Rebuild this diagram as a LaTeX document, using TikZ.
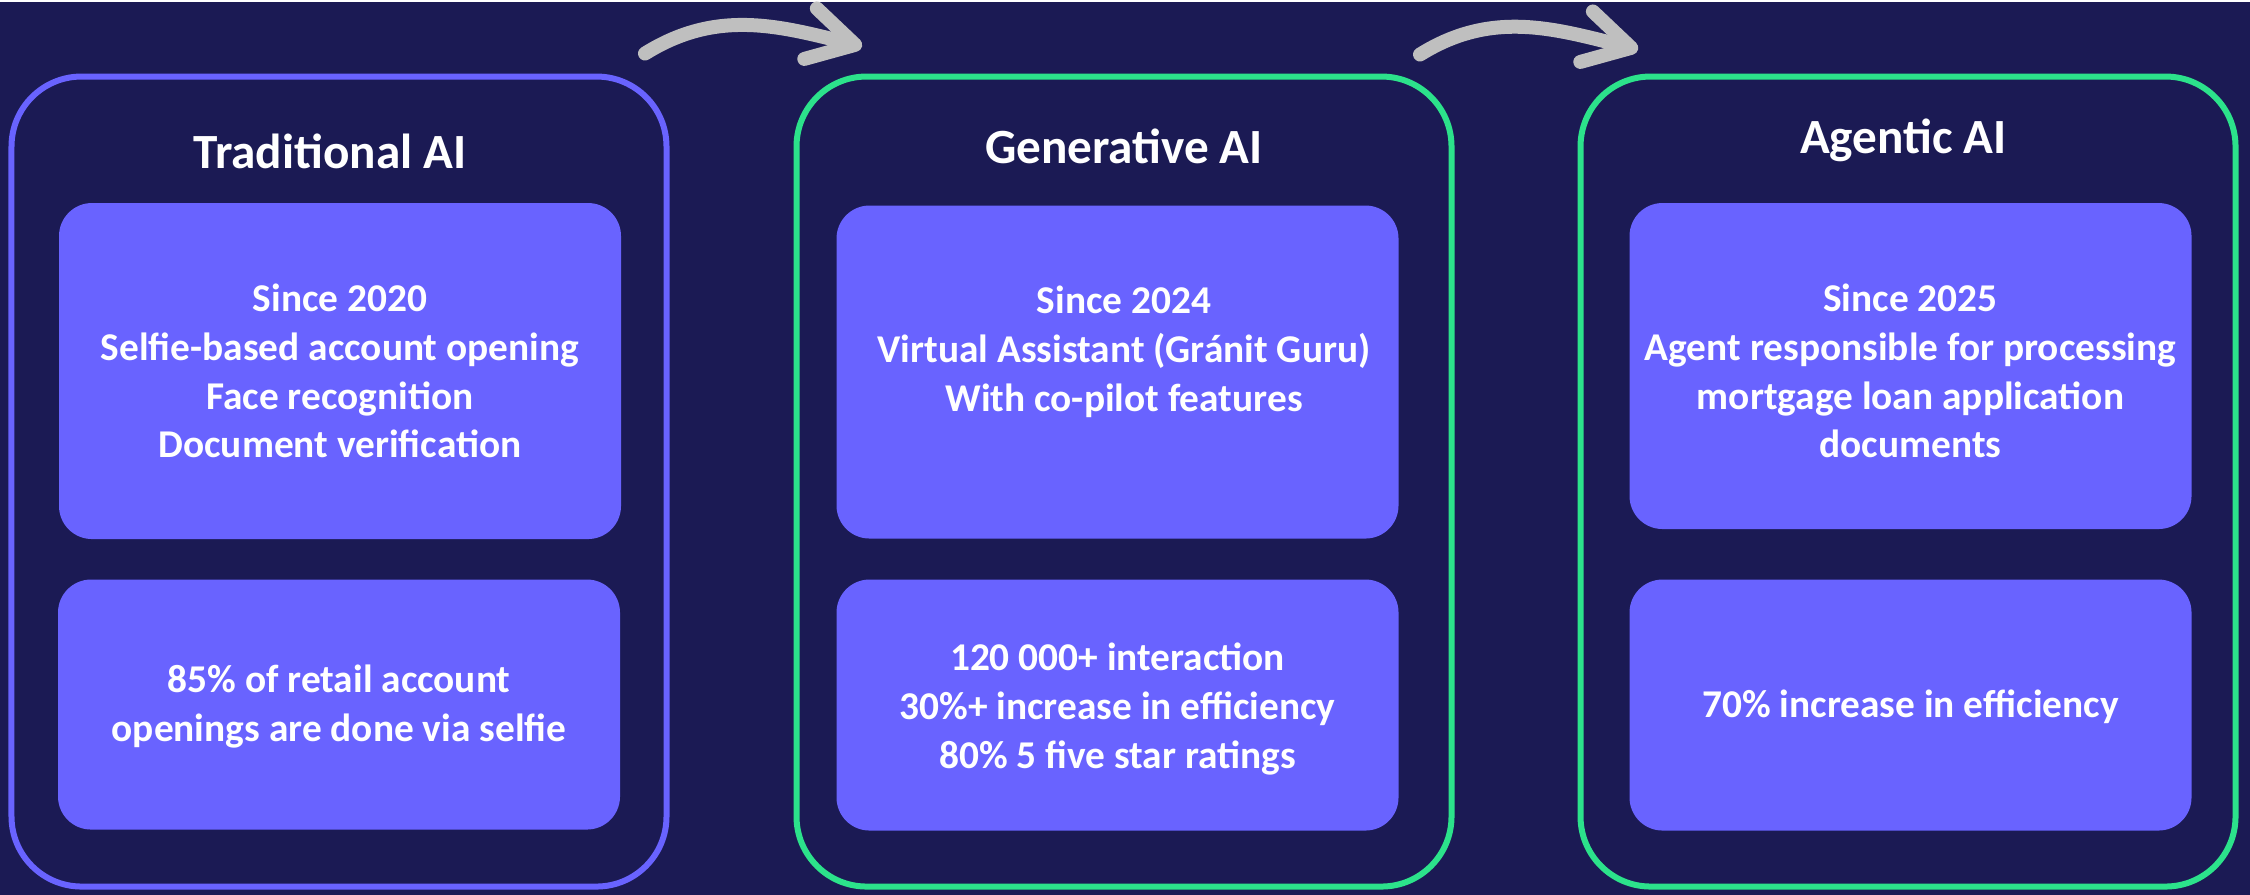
\documentclass[tikz,border=0pt]{standalone}
\usepackage{fontspec}
\setmainfont{Carlito}
\usetikzlibrary{arrows.meta}

\definecolor{bgnavy}{RGB}{27,26,84}
\definecolor{cardviolet}{RGB}{105,99,255}
\definecolor{mintgreen}{RGB}{44,226,139}
\definecolor{arrowgrey}{RGB}{191,191,191}

\begin{document}
\begin{tikzpicture}[>/.tip={Straight Barb[length=4.6mm,width=5.2mm,line cap=round,line join=round]},
	stage/.style={draw,rounded corners=0.7cm,line width=0.06cm,minimum width=6.55cm,minimum height=8.10cm},
	card/.style={fill=cardviolet,rounded corners=0.33cm,minimum width=5.62cm},
	heading/.style={text=white,anchor=base,font=\fontsize{14}{17}\selectfont\bfseries},
	body/.style={text=white,align=center,font=\fontsize{11.2}{13.9}\selectfont\bfseries},
	flow/.style={->,draw=arrowgrey,line width=0.14cm,line cap=round}]
	\fill[bgnavy] (0,0) rectangle (22.5,8.93);
	% the three stages
	\node (trad) [stage,draw=cardviolet] at (3.39,4.13) {};
	\node (gen) [stage,draw=mintgreen] at (11.24,4.13) {};
	\node (agent) [stage,draw=mintgreen] at (19.08,4.13) {};
	\node [heading] at (3.30,7.26) {Traditional AI};
	\node [heading] at (11.24,7.31) {Generative AI};
	\node [heading] at (19.035,7.41) {Agentic AI};
	% cards
	\node (tradtop) [card,minimum height=3.36cm] at (3.40,5.235) {};
	\node (tradbot) [card,minimum height=2.50cm] at (3.39,1.90) {};
	\node (gentop) [card,minimum height=3.33cm] at (11.175,5.225) {};
	\node (genbot) [card,minimum height=2.51cm] at (11.175,1.895) {};
	\node (agenttop) [card,minimum height=3.26cm] at (19.105,5.285) {};
	\node (agentbot) [card,minimum height=2.51cm] at (19.105,1.895) {};
	\node [body] at (tradtop) {Since 2020\\Selfie-based account opening\\Face recognition\\Document verification};
	\node [body,yshift=-0.2mm] at (tradbot) {85\% of retail account\\openings are done via selfie};
	\node [body,xshift=0.65mm,yshift=2mm] at (gentop) {Since 2024\\Virtual Assistant (Gránit Guru)\\With co-pilot features};
	\node [body,yshift=-0.4mm] at (genbot) {120 000+ interaction\\30\%+ increase in efficiency\\80\% 5 five star ratings};
	\node [body,yshift=-0.5mm] at (agenttop) {Since 2025\\Agent responsible for processing\\mortgage loan application\\documents};
	\node [body,yshift=-0.2mm] at (agentbot) {70\% increase in efficiency};
	% arrows between the stages
	\coordinate (tradout) at (6.45,8.41);
	\coordinate (genin) at (8.62,8.48);
	\coordinate (genout) at (14.20,8.40);
	\coordinate (agentin) at (16.38,8.45);
	\draw[flow] (tradout) to[out=32,in=166] (genin);
	\draw[flow] (genout) to[out=32,in=166] (agentin);
\end{tikzpicture}
\end{document}
